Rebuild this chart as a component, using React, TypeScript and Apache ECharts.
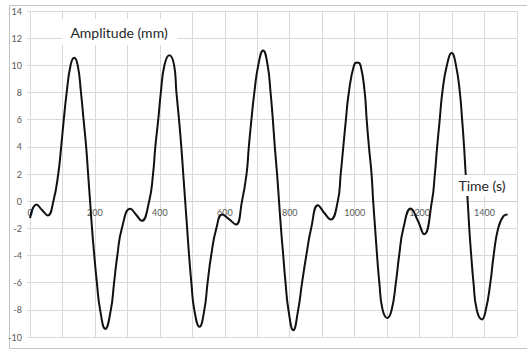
import React, { useEffect, useRef } from "react";
import * as echarts from "echarts";

// Time (s)
const timeS = [
  0, 20, 37, 55, 72, 87, 96, 104, 113, 125, 136, 147, 157, 165, 173, 179, 185, 191, 198, 206, 216, 232,
  249, 259, 269, 283, 309, 327, 344, 367, 379, 386, 395, 403, 414, 429, 444, 451, 459, 466, 472, 478, 484,
  490, 497, 506, 522, 537, 547, 558, 574, 592, 612, 634, 653, 667, 674, 682, 691, 703, 718, 732, 741, 748,
  754, 761, 767, 773, 780, 787, 796, 811, 826, 838, 851, 866, 887, 906, 926, 948, 957, 965, 973, 982, 998,
  1008, 1018, 1031, 1037, 1044, 1052, 1057, 1063, 1069, 1076, 1086, 1101, 1114, 1127, 1137, 1150, 1173,
  1194, 1214, 1238, 1247, 1254, 1262, 1270, 1284, 1299, 1312, 1324, 1331, 1337, 1342, 1347, 1353, 1359,
  1366, 1376, 1392, 1404, 1418, 1428, 1442, 1459, 1471,
];

// Amplitude (mm)
const amplitudeMm = [
  -1.25, -0.25, -0.65, -1.05, 0, 2, 4, 6, 8, 10, 10.55, 10, 8, 6, 4, 2, 0, -2, -4, -6, -8, -9.4,
  -8, -6, -4, -2, -0.55, -1.0, -1.45, 0, 2, 4, 6, 8, 10, 10.75, 10, 8, 6, 4, 2, 0, -2,
  -4, -6, -8, -9.25, -8, -6, -4, -2, -0.98, -1.3, -1.72, 0, 2, 4, 6, 8, 10, 11.1, 10, 8, 6,
  4, 2, 0, -2, -4, -6, -8, -9.5, -8, -6, -4, -2, -0.3, -0.85, -1.35, 0, 2, 4, 6, 8, 10,
  10.2, 10, 8, 6, 4, 2, 0, -2, -4, -6, -8, -8.6, -8, -6, -4, -2, -0.54,
  -1.4, -2.43, 0, 2, 4, 6, 8, 10, 10.9, 10, 8, 6, 4, 2, 0.44, -2, -4,
  -6, -8, -8.71, -8, -6, -4, -2, -1.08, -0.98,
];

const xMin = 0;
const xMax = 1500;
const xGridStep = 100;
const xLabelStep = 200;
const yMin = -10;
const yMax = 14;
const yStep = 2;

const yAxisTitle = "Amplitude (mm)";
const xAxisTitle = "Time (s)";

const FONT = "Lato, 'Open Sans', sans-serif";

const W = 527;
const H = 350;
const GRID = { left: 30, right: 10, top: 11, bottom: 13 };

export default function App() {
  const ref = useRef<HTMLDivElement>(null);

  useEffect(() => {
    if (!ref.current) return;
    const chart = echarts.init(ref.current, null, { renderer: "svg" });
    const data = timeS.map((t, i) => [t, amplitudeMm[i]]);
    // move the x axis (line + labels) up to the y = 0 level of the plot
    const plotH = H - GRID.top - GRID.bottom;
    const zeroFromBottom = ((0 - yMin) / (yMax - yMin)) * plotH;
    chart.setOption({
      animation: false,
      backgroundColor: "#ffffff",
      grid: { ...GRID, containLabel: false },
      xAxis: {
        type: "value",
        min: xMin,
        max: xMax,
        interval: xGridStep,
        offset: -zeroFromBottom,
        axisLine: { show: true, onZero: false, lineStyle: { color: "#d0d0d0", width: 1 } },
        axisTick: { show: false },
        axisLabel: {
          color: "#595959",
          fontSize: 9,
          fontFamily: FONT,
          margin: 7,
          showMaxLabel: false,
          formatter: (v: number) => (v % xLabelStep === 0 ? String(v) : ""),
        },
        splitLine: { show: true, lineStyle: { color: "#d9d9d9", width: 1 } },
        z: 0,
      },
      yAxis: {
        type: "value",
        min: yMin,
        max: yMax,
        interval: yStep,
        axisLine: { show: false },
        axisTick: { show: true, length: 3, lineStyle: { color: "#d9d9d9" } },
        axisLabel: {
          color: "#595959",
          fontSize: 9,
          fontFamily: FONT,
          margin: 8,
        },
        splitLine: { show: true, lineStyle: { color: "#d9d9d9", width: 1 } },
        z: 0,
      },
      series: [
        {
          type: "line",
          data,
          showSymbol: false,
          smooth: 0.5,
          lineStyle: { color: "#111111", width: 2 },
          z: 2,
        },
      ],
      graphic: {
        elements: [
          {
            type: "rect",
            left: 7,
            top: 3,
            shape: { width: 540, height: 343 },
            style: { fill: "none", stroke: "#c4c4c4", lineWidth: 1 },
            silent: true,
            z: 0,
          },
          {
            type: "rect",
            left: 62,
            top: 19,
            shape: { width: 115, height: 26 },
            style: { fill: "#ffffff" },
            z: 100,
          },
          {
            type: "text",
            x: 119,
            y: 32,
            style: {
              text: yAxisTitle,
              fill: "#262626",
              font: `14px ${FONT}`,
              align: "center",
              verticalAlign: "middle",
            },
            z: 101,
          },
          {
            type: "rect",
            left: 453,
            top: 175,
            shape: { width: 60, height: 21 },
            style: { fill: "#ffffff" },
            z: 100,
          },
          {
            type: "text",
            x: 482,
            y: 185,
            style: {
              text: xAxisTitle,
              fill: "#262626",
              font: `14px ${FONT}`,
              align: "center",
              verticalAlign: "middle",
            },
            z: 101,
          },
        ],
      },
    });
    return () => chart.dispose();
  }, []);

  return (
    <div
      ref={ref}
      style={{ position: "absolute", left: 0, top: 0, width: W, height: H, background: "#fff" }}
    />
  );
}
